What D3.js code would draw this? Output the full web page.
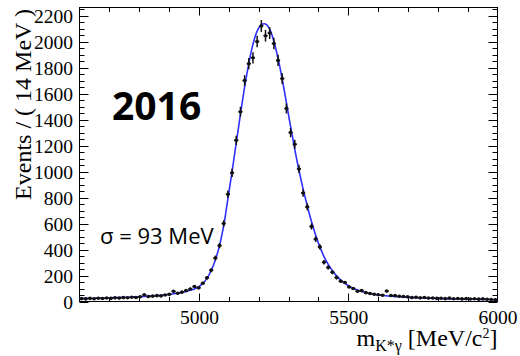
<!DOCTYPE html>
<html>
<head>
<meta charset="utf-8">
<script src="https://cdn.jsdelivr.net/npm/d3@7"></script>
<style>
  html, body { margin: 0; padding: 0; background: #fff; }
  svg { display: block; }
</style>
</head>
<body>
<svg id="chart" width="520" height="356"></svg>
<script>
// Histogram binning of the K*gamma invariant mass (14 MeV bins, 4600-6000 MeV)
const massMin = 4600;
const massMax = 6000;
const binWidth = 14;

// Events per bin
const binCounts = [
  22, 20, 24, 21, 25, 23, 27, 24, 28, 26,
  30, 29, 33, 31, 36, 52, 38, 41, 45, 43,
  50, 55, 78, 64, 72, 84, 96, 115, 105, 140,
  182, 240, 335, 430, 600, 825, 990, 1240, 1460, 1700,
  1830, 1875, 2000, 2120, 2045, 2065, 1985, 1855, 1715, 1485,
  1300, 1210, 1020, 835, 728, 577, 480, 420, 302, 262,
  225, 184, 156, 146, 112, 100, 79, 84, 68, 62,
  56, 52, 48, 80, 46, 45, 40, 38, 36, 30,
  33, 28, 31, 26, 27, 24, 25, 22, 26, 21,
  23, 20, 22, 19, 21, 18, 20, 17, 15, 13
];

// Fitted model evaluated at each bin centre
const fitCurve = [
  24, 24.5, 25, 25.5, 26, 27, 28, 29, 30, 31,
  32, 33, 34.5, 36, 37.5, 39, 41, 43, 45.5, 48,
  51, 55, 59, 64, 70, 77, 86, 97, 113, 139,
  178, 238, 320, 430, 585, 790, 1000, 1220, 1440, 1650,
  1830, 1980, 2080, 2130, 2135, 2095, 2000, 1870, 1710, 1530,
  1345, 1170, 1010, 865, 735, 615, 510, 420, 345, 285,
  236, 197, 165, 139, 118, 101, 88, 77, 68, 61,
  55, 50, 46, 43, 40, 38, 36, 34, 32, 30,
  28.5, 27, 26, 25, 24, 23, 22, 21, 20, 19.5,
  19, 18.5, 18, 17.5, 17, 16.5, 16, 15.5, 15, 14.5
];
// Model value at the two ends of the mass window
const fitEdgeValues = [23.8, 14.3];

const xTickValues = [5000, 5500, 6000];
const yTickValues = [0, 200, 400, 600, 800, 1000, 1200, 1400, 1600, 1800, 2000, 2200];

const yTitle = "Events / ( 14 MeV )";
const periodLabel = "2016";
const widthLabel = "σ = 93 MeV";

const svg = d3.select("#chart");
const frame = { left: 79.5, right: 497.5, top: 7.5, bottom: 301.5 };

const x = d3.scaleLinear().domain([massMin, massMax]).range([frame.left, frame.right]);
const y = d3.scaleLinear().domain([0, 2262]).range([frame.bottom, frame.top]);

const bins = binCounts.map((n, i) => ({
  m: massMin + binWidth * (i + 0.5),
  n: n,
  err: Math.sqrt(n)
}));

const fitPoints = [{ m: massMin, v: fitEdgeValues[0] }]
  .concat(fitCurve.map((v, i) => ({ m: massMin + binWidth * (i + 0.5), v: v })))
  .concat([{ m: massMax, v: fitEdgeValues[1] }]);

const serif = "'Liberation Serif', 'DejaVu Serif', serif";
const sans = "'Open Sans', 'Noto Sans', sans-serif";

// Axes with inward ROOT-style ticks
function tickAxes() {
  const g = svg.append("g").attr("stroke", "#000").attr("stroke-width", 1);
  const xMinor = d3.range(4700, 6000, 100);
  xMinor.forEach(v => {
    const major = v % 500 === 0;
    const len = major ? 8 : 4.5;
    const px = Math.round(x(v)) + 0.5;
    g.append("line").attr("x1", px).attr("x2", px)
      .attr("y1", frame.bottom).attr("y2", frame.bottom - len);
    g.append("line").attr("x1", px).attr("x2", px)
      .attr("y1", frame.top).attr("y2", frame.top + len);
  });
  const yMinor = d3.range(0, 2262, 50);
  yMinor.forEach(v => {
    const major = v % 200 === 0;
    const len = major ? 9 : 5;
    const py = Math.round(y(v)) + 0.5;
    g.append("line").attr("x1", frame.left).attr("x2", frame.left + len)
      .attr("y1", py).attr("y2", py);
    g.append("line").attr("x1", frame.right).attr("x2", frame.right - len)
      .attr("y1", py).attr("y2", py);
  });
}
tickAxes();

// Tick labels via d3 axes (tick marks hidden, drawn above)
const xAxis = d3.axisBottom(x).tickValues(xTickValues).tickSize(0).tickPadding(0).tickFormat(d3.format("d"));
const gx = svg.append("g").attr("transform", `translate(0,${frame.bottom})`).call(xAxis);
gx.select(".domain").remove();
gx.selectAll("text").attr("font-family", serif).attr("font-size", 19.5).attr("fill", "#000")
  .attr("dy", null).attr("y", 22);

const yAxis = d3.axisLeft(y).tickValues(yTickValues).tickSize(0).tickPadding(0).tickFormat(d3.format("d"));
const gy = svg.append("g").attr("transform", `translate(${frame.left - 6.5},0)`).call(yAxis);
gy.select(".domain").remove();
gy.selectAll("text").attr("font-family", serif).attr("font-size", 19.5).attr("fill", "#000")
  .attr("dy", "0.34em");

// Frame
svg.append("rect")
  .attr("x", frame.left).attr("y", frame.top)
  .attr("width", frame.right - frame.left).attr("height", frame.bottom - frame.top)
  .attr("fill", "none").attr("stroke", "#000").attr("stroke-width", 1);

// Fit curve
const fitLine = d3.line().x(d => x(d.m)).y(d => y(d.v)).curve(d3.curveCatmullRom.alpha(0.5));
svg.append("path").datum(fitPoints)
  .attr("d", fitLine)
  .attr("fill", "none").attr("stroke", "#3030ff").attr("stroke-width", 1.6);

// Data points with error bars
const pts = svg.append("g").attr("stroke", "#111").attr("stroke-width", 1.5);
bins.forEach(b => {
  pts.append("line").attr("x1", x(b.m)).attr("x2", x(b.m))
    .attr("y1", y(b.n - b.err)).attr("y2", y(b.n + b.err));
  pts.append("line").attr("x1", x(b.m - binWidth / 2)).attr("x2", x(b.m + binWidth / 2))
    .attr("y1", y(b.n)).attr("y2", y(b.n));
});
svg.append("g").selectAll("circle").data(bins).join("circle")
  .attr("cx", d => x(d.m)).attr("cy", d => y(d.n)).attr("r", 1.8).attr("fill", "#111");

// Axis titles
const xt = svg.append("text")
  .attr("x", frame.right).attr("y", 346)
  .attr("text-anchor", "end")
  .attr("font-family", serif).attr("font-size", 24).attr("fill", "#000");
xt.append("tspan").text("m");
xt.append("tspan").attr("font-size", 16).attr("dy", 5).text("K*γ");
xt.append("tspan").attr("dy", -5).text(" [MeV/c");
xt.append("tspan").attr("font-size", 14).attr("dy", -8).text("2");
xt.append("tspan").attr("dy", 8).text("]");

svg.append("text")
  .attr("transform", "translate(31,9) rotate(-90)")
  .attr("text-anchor", "end")
  .attr("font-family", serif).attr("font-size", 24).attr("fill", "#000")
  .text(yTitle);

// Annotations
svg.append("text")
  .attr("x", 112).attr("y", 120)
  .attr("font-family", sans).attr("font-weight", 700).attr("font-size", 39).attr("fill", "#000")
  .text(periodLabel);

svg.append("text")
  .attr("x", 100).attr("y", 244)
  .attr("font-family", sans).attr("font-size", 22).attr("fill", "#000")
  .text(widthLabel);
</script>
</body>
</html>
